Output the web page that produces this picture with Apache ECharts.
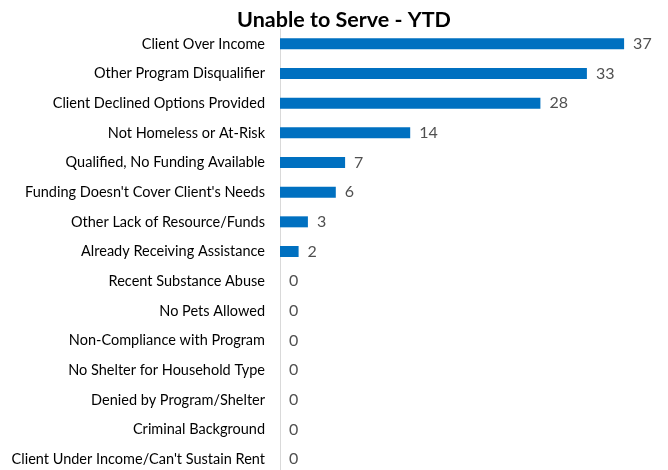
<!DOCTYPE html>
<html>
<head>
<meta charset="utf-8">
<script src="https://cdn.jsdelivr.net/npm/echarts@6/dist/echarts.min.js"></script>
<style>
  html, body { margin: 0; padding: 0; background: #fff; }
  #chart { width: 668px; height: 470px; }
</style>
</head>
<body>
<div id="chart"></div>
<script>
// reasons, top to bottom
var reasons = [
  'Client Over Income',
  'Other Program Disqualifier',
  'Client Declined Options Provided',
  'Not Homeless or At-Risk',
  'Qualified, No Funding Available',
  "Funding Doesn't Cover Client's Needs",
  'Other Lack of Resource/Funds',
  'Already Receiving Assistance',
  'Recent Substance Abuse',
  'No Pets Allowed',
  'Non-Compliance with Program',
  'No Shelter for Household Type',
  'Denied by Program/Shelter',
  'Criminal Background',
  "Client Under Income/Can't Sustain Rent"
];
var counts = [37, 33, 28, 14, 7, 6, 3, 2, 0, 0, 0, 0, 0, 0, 0];

var chart = echarts.init(document.getElementById('chart'));
var option = {
  animation: false,
  title: {
    text: 'Unable to Serve - YTD',
    left: 339,
    textAlign: 'center',
    top: 4,
    textStyle: { fontFamily: 'Lato', fontWeight: 'bold', fontSize: 21.5, color: '#000' }
  },
  grid: { left: 280, top: 29, width: 372, height: 445, containLabel: false, outerBoundsMode: 'none' },
  xAxis: {
    type: 'value',
    min: 0,
    max: 40,
    show: false
  },
  yAxis: {
    type: 'category',
    data: reasons,
    inverse: true,
    axisLine: { show: true, lineStyle: { color: '#d9d9d9', width: 1 } },
    axisTick: { show: false },
    axisLabel: { fontFamily: 'Lato', fontSize: 14.5, color: '#000', margin: 15 }
  },
  series: [{
    type: 'bar',
    data: counts,
    barWidth: 11,
    itemStyle: { color: '#0070C0' },
    label: {
      show: true,
      position: 'right',
      distance: 9,
      fontFamily: 'Lato',
      fontSize: 16,
      color: '#505050'
    }
  }]
};
chart.setOption(option);
</script>
</body>
</html>
